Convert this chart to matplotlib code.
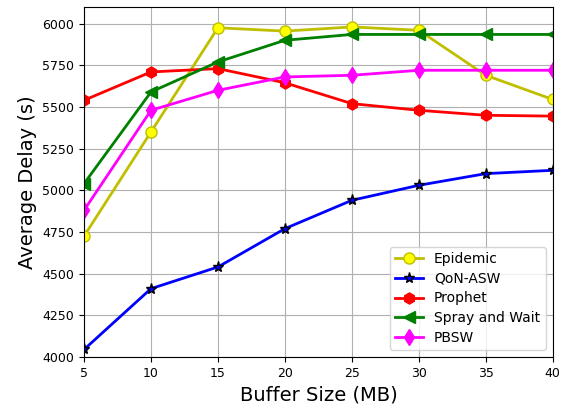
import numpy as np
import matplotlib.pyplot as plt

buffer_mb = [5, 10, 15, 20, 25, 30, 35, 40]
epidemic = [4725, 5350, 5975, 5955, 5980, 5960, 5690, 5545]
qon_asw = [4045, 4410, 4540, 4770, 4940, 5030, 5100, 5120]
prophet = [5540, 5710, 5730, 5645, 5520, 5480, 5450, 5445]
spray_wait = [5040, 5590, 5770, 5900, 5935, 5935, 5935, 5935]
pbsw = [4880, 5480, 5600, 5680, 5690, 5720, 5720, 5720]

fig, ax = plt.subplots(figsize=(5.64, 4.08), dpi=100)

ax.plot(buffer_mb, epidemic, "-o", color="y", mfc="yellow", mec="y", ms=8, lw=2, label="Epidemic")
ax.plot(buffer_mb, qon_asw, "-*", color="blue", mfc="blue", mec="black", ms=8, lw=2, label="QoN-ASW")
ax.plot(buffer_mb, prophet, "-h", color="red", ms=8, lw=2, label="Prophet")
ax.plot(buffer_mb, spray_wait, "-<", color="green", ms=8, lw=2, label="Spray and Wait")
ax.plot(buffer_mb, pbsw, "-d", color="magenta", ms=8, lw=2, label="PBSW")

ax.set_xlim(5, 40)
ax.set_ylim(4000, 6100)
ax.set_xticks(np.arange(5, 41, 5))
ax.set_yticks(np.arange(4000, 6001, 250))
ax.grid(True, color="#b0b0b0", lw=0.8)
ax.tick_params(labelsize=9)
ax.set_xlabel("Buffer Size (MB)", fontsize=14)
ax.set_ylabel("Average Delay (s)", fontsize=14)
ax.legend(loc="lower right", fontsize=10, labelspacing=0.4)

fig.subplots_adjust(left=0.149, right=0.98, top=0.983, bottom=0.125)
fig.savefig("out.png")
